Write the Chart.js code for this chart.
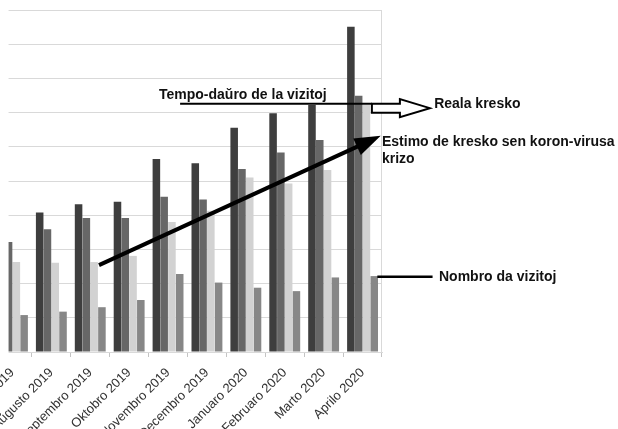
<!DOCTYPE html>
<html>
<head>
<meta charset="utf-8">
<script src="https://cdn.jsdelivr.net/npm/chart.js@4.4.0/dist/chart.umd.min.js"></script>
<style>
html,body{margin:0;padding:0;background:#fff;overflow:hidden;width:618px;height:429px;}
#wrap{position:absolute;left:-20px;top:0;width:638px;height:429px;}
</style>
</head>
<body>
<div id="wrap"><canvas id="chart" width="638" height="429"></canvas></div>
<script>

/* Data */

const months=["Julio 2019","Aŭgusto 2019","Septembro 2019","Oktobro 2019","Novembro 2019","Decembro 2019","Januaro 2020","Februaro 2020","Marto 2020","Aprilo 2020"];

const darkValues=[3.9,4.08,4.32,4.39,5.64,5.52,6.56,6.98,7.22,9.51];
const midValues=[3.22,3.59,3.92,3.92,4.54,4.46,5.35,5.83,6.20,7.49];
const lightValues=[2.63,2.61,2.63,2.81,3.80,4.13,5.10,4.93,5.32,7.22];
const visitValues=[1.08,1.18,1.31,1.52,2.28,2.03,1.88,1.78,2.18,2.22];

const yTicks=[0,1,2,3,4,5,6,7,8,9,10];

const FONT='"Liberation Sans", Arial, sans-serif';

/* Annotations (category index / value units) */

function annotate(chart){

const ctx=chart.ctx;
const x=chart.scales.x, y=chart.scales.y;
const px=i=>x.getPixelForValue(i);
const py=v=>y.getPixelForValue(v);

ctx.save();

ctx.strokeStyle="#000";
ctx.fillStyle="#000";
ctx.lineCap="butt";

/* duration line */
ctx.lineWidth=2;
ctx.beginPath();
ctx.moveTo(px(4.31),py(7.26));
ctx.lineTo(px(9.24),py(7.26));
ctx.stroke();

/* hollow arrow */
let x0=px(9.24), x1=px(9.96), x2=px(10.73), yc=py(7.13);
let bh=4.5, hh=9;
ctx.beginPath();
ctx.moveTo(x0,yc-bh);
ctx.lineTo(x1,yc-bh);
ctx.lineTo(x1,yc-hh);
ctx.lineTo(x2,yc);
ctx.lineTo(x1,yc+hh);
ctx.lineTo(x1,yc+bh);
ctx.lineTo(x0,yc+bh);
ctx.closePath();
ctx.fillStyle="#fff";
ctx.fill();
ctx.lineWidth=2;
ctx.stroke();

/* estimate arrow */
let sx=px(2.225), sy=py(2.54), tx=px(9.467), ty=py(6.32);
let ang=Math.atan2(ty-sy,tx-sx);
let headLen=26, headHalf=9;
let bx=tx-Math.cos(ang)*headLen, by=ty-Math.sin(ang)*headLen;
ctx.lineWidth=4;
ctx.beginPath();
ctx.moveTo(sx,sy);
ctx.lineTo(bx+Math.cos(ang)*2,by+Math.sin(ang)*2);
ctx.stroke();
ctx.fillStyle="#000";
ctx.beginPath();
ctx.moveTo(tx,ty);
ctx.lineTo(bx+Math.sin(ang)*headHalf,by-Math.cos(ang)*headHalf);
ctx.lineTo(bx-Math.sin(ang)*headHalf,by+Math.cos(ang)*headHalf);
ctx.closePath();
ctx.fill();

/* visits connector */
ctx.lineWidth=2.5;
ctx.beginPath();
ctx.moveTo(px(9.38),py(2.2));
ctx.lineTo(px(10.80),py(2.2));
ctx.stroke();

/* labels */
ctx.font="bold 14px "+FONT;
ctx.fillStyle="#111";
ctx.textAlign="left";
ctx.textBaseline="alphabetic";
ctx.fillText("Tempo-daŭro de la vizitoj",px(3.767),py(7.40));
ctx.fillText("Reala kresko",px(10.84),py(7.13));
ctx.fillText("Estimo de kresko sen koron-virusa",px(9.50),py(6.01));
ctx.fillText("krizo",px(9.50),py(5.52));
ctx.fillText("Nombro da vizitoj",px(10.965),py(2.08));

ctx.restore();

}

const notesPlugin={
id:"notes",
afterDatasetsDraw(chart){
/* the reference is cropped: blank strip at the left of the plot */
const a=chart.chartArea;
chart.ctx.save();
chart.ctx.fillStyle="#fff";
chart.ctx.fillRect(0,0,chart.scales.x.getPixelForValue(-0.1),a.bottom+1);
chart.ctx.restore();
},
afterDraw(chart){
annotate(chart);
}
};

/* Chart */

const chart=new Chart(document.getElementById("chart"),{

type:"bar",

data:{
labels:months,
datasets:[
{label:"A",data:darkValues,backgroundColor:"#3e3e3e"},
{label:"B",data:midValues,backgroundColor:"#676767"},
{label:"C",data:lightValues,backgroundColor:"#d2d2d2"},
{label:"Nombro da vizitoj",data:visitValues,backgroundColor:"#878787"}
]
},

options:{

responsive:false,
animation:false,
devicePixelRatio:1,

datasets:{
bar:{
categoryPercentage:0.8,
barPercentage:0.97
}
},

layout:{
padding:{left:13,right:236,top:10,bottom:0}
},

plugins:{
legend:{display:false},
tooltip:{enabled:false}
},

scales:{

x:{
grid:{
offset:true,
drawOnChartArea:true,
color:c=>c.type==="tick"?"rgba(0,0,0,0)":"#d9d9d9",
tickColor:"#c4c4c4",
tickLength:5
},
border:{color:"#d9d9d9"},
ticks:{
minRotation:45,
maxRotation:45,
autoSkip:false,
padding:8,
color:"#333",
font:{family:FONT,size:13}
},
afterFit:s=>{
s.height=77;
s.paddingLeft=0;
s.paddingRight=0;
}
},

y:{
min:0,
max:10,
afterBuildTicks:s=>{s.ticks=yTicks.map(v=>({value:v}));},
grid:{color:"#d9d9d9",lineWidth:1,drawTicks:false},
border:{display:false},
ticks:{display:false},
afterFit:s=>{s.width=0;}
}

}

},

plugins:[notesPlugin]

});

</script>
</body>
</html>
